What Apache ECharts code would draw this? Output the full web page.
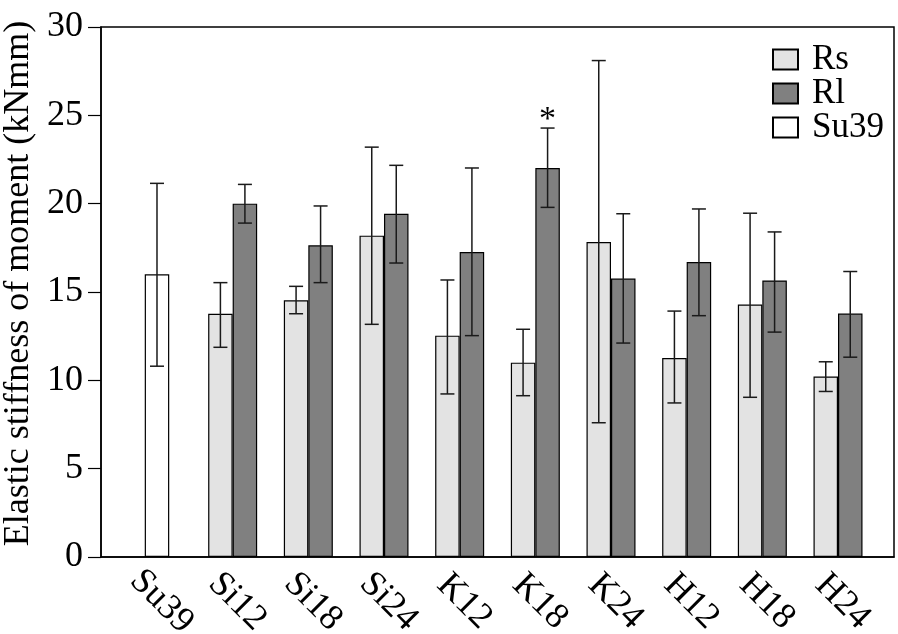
<!DOCTYPE html>
<html>
<head>
<meta charset="utf-8">
<script src="https://cdn.jsdelivr.net/npm/echarts@6/dist/echarts.min.js"></script>
<style>
  html, body { margin: 0; padding: 0; background: #fff; }
  #chart { width: 898px; height: 634px; }
</style>
</head>
<body>
<div id="chart"></div>
<script>
// groups along the x axis
const groups = ['Su39', 'Si12', 'Si18', 'Si24', 'K12', 'K18', 'K24', 'H12', 'H18', 'H24']

// Su39 control (only first group)
const su39Mean = 16.0
const su39Lo = 10.8
const su39Hi = 21.15

// Rs (first 'null' = Su39 group has no Rs/Rl)
const rsMean = [null, 13.77, 14.53, 18.19, 12.53, 11.0, 17.83, 11.26, 14.29, 10.22]
const rsLo   = [null, 11.87, 13.77, 13.17, 9.23, 9.13, 7.6, 8.72, 9.04, 9.37]
const rsHi   = [null, 15.53, 15.32, 23.2, 15.68, 12.89, 28.1, 13.92, 19.46, 11.05]

// Rl
const rlMean = [null, 20.0, 17.64, 19.43, 17.26, 22.02, 15.76, 16.7, 15.65, 13.78]
const rlLo   = [null, 18.9, 15.53, 16.64, 12.53, 19.79, 12.11, 13.66, 12.73, 11.31]
const rlHi   = [null, 21.09, 19.87, 22.17, 22.02, 24.28, 19.43, 19.7, 18.4, 16.16]

// significance mark on Rl
const rlSig = [false, false, false, false, false, true, false, false, false, false]

const yTicks = [0, 5, 10, 15, 20, 25, 30]

const FONT = 'Liberation Serif'
const BAR_W = 24.5

const chart = echarts.init(document.getElementById('chart'), null, { renderer: 'canvas' })

function toPairs(arr) {
  return arr.map((v, i) => v == null ? null : [i, v]).filter(Boolean)
}
function toErr(lo, hi) {
  return lo.map((v, i) => v == null ? null : [i, v, hi[i]]).filter(Boolean)
}

// error bar painter, shifted by px from group centre
function errRender(shift, sig) {
  return function (params, api) {
    const i = api.value(0)
    const lo = api.coord([i, api.value(1)])
    const hi = api.coord([i, api.value(2)])
    const x = lo[0] + shift
    const cap = 7
    const style = { stroke: '#1a1a1a', lineWidth: 1.5 }
    const kids = [
      { type: 'line', shape: { x1: x, y1: lo[1], x2: x, y2: hi[1] }, style },
      { type: 'line', shape: { x1: x - cap, y1: lo[1], x2: x + cap, y2: lo[1] }, style },
      { type: 'line', shape: { x1: x - cap, y1: hi[1], x2: x + cap, y2: hi[1] }, style }
    ]
    if (sig && sig[i]) {
      kids.push({
        type: 'text',
        style: { text: '*', x: x, y: hi[1] + 9, align: 'center', verticalAlign: 'bottom',
                 font: '34px "' + FONT + '"', fill: '#000' }
      })
    }
    return { type: 'group', children: kids }
  }
}

const xMin = -0.74, xMax = 9.74

chart.setOption({
  animation: false,
  textStyle: { fontFamily: FONT },
  grid: {
    left: 101, right: 4, top: 27, bottom: 77,
    outerBoundsMode: 'none',
    containLabel: false,
    show: true, borderColor: '#000', borderWidth: 1.5
  },
  legend: {
    orient: 'vertical',
    left: 767,
    top: 37,
    icon: 'rect',
    itemWidth: 25,
    itemHeight: 20,
    itemGap: -1,
    data: ['Rs', 'Rl', 'Su39'],
    textStyle: { fontSize: 35, fontFamily: FONT, color: '#000', padding: [4, 0, 0, 9] }
  },
  xAxis: [{
    type: 'value',
    min: xMin,
    max: xMax,
    splitLine: { show: false },
    axisLine: { show: true, onZero: false, lineStyle: { color: '#000', width: 1.5 } },
    axisTick: { show: false },
    axisLabel: {
      customValues: groups.map((g, i) => i),
      formatter: v => groups[Math.round(v)] || '',
      rotate: -45,
      align: 'center',
      verticalAlign: 'middle',
      margin: 40,
      padding: [0, 0, 0, 13],
      fontSize: 36,
      fontFamily: FONT,
      color: '#000'
    }
  }, {
    type: 'value', min: xMin, max: xMax, show: false
  }],
  yAxis: {
    type: 'value',
    min: 0,
    max: 30,
    interval: 5,
    name: 'Elastic stiffness of moment (kNmm)',
    nameLocation: 'middle',
    nameGap: 60,
    nameTextStyle: { fontSize: 36, fontFamily: FONT, color: '#000', padding: [0, 0, 0, 17] },
    splitLine: { show: false },
    axisLine: { show: true, onZero: false, lineStyle: { color: '#000', width: 1.5 } },
    axisTick: { show: true, length: 13, lineStyle: { color: '#000', width: 1.2 } },
    axisLabel: { fontSize: 36, fontFamily: FONT, color: '#000', margin: 18,
                 formatter: v => yTicks.includes(v) ? String(v) : '' }
  },
  series: [{
    name: 'Rs',
    type: 'bar',
    barWidth: BAR_W,
    barGap: '0%',
    itemStyle: { color: '#e3e3e3', borderColor: '#000', borderWidth: 1.2 },
    data: toPairs(rsMean)
  }, {
    name: 'Rl',
    type: 'bar',
    barWidth: BAR_W,
    barGap: '0%',
    itemStyle: { color: '#808080', borderColor: '#000', borderWidth: 1.2 },
    data: toPairs(rlMean)
  }, {
    name: 'Su39',
    type: 'bar',
    xAxisIndex: 1,
    barWidth: BAR_W,
    itemStyle: { color: '#ffffff', borderColor: '#000', borderWidth: 1.2 },
    data: [[0, su39Mean]]
  }, {
    type: 'custom',
    renderItem: errRender(-BAR_W / 2),
    data: toErr(rsLo, rsHi),
    z: 10
  }, {
    type: 'custom',
    renderItem: errRender(BAR_W / 2, rlSig),
    data: toErr(rlLo, rlHi),
    z: 10
  }, {
    type: 'custom',
    renderItem: errRender(0),
    data: [[0, su39Lo, su39Hi]],
    z: 10
  }]
})
</script>
</body>
</html>
